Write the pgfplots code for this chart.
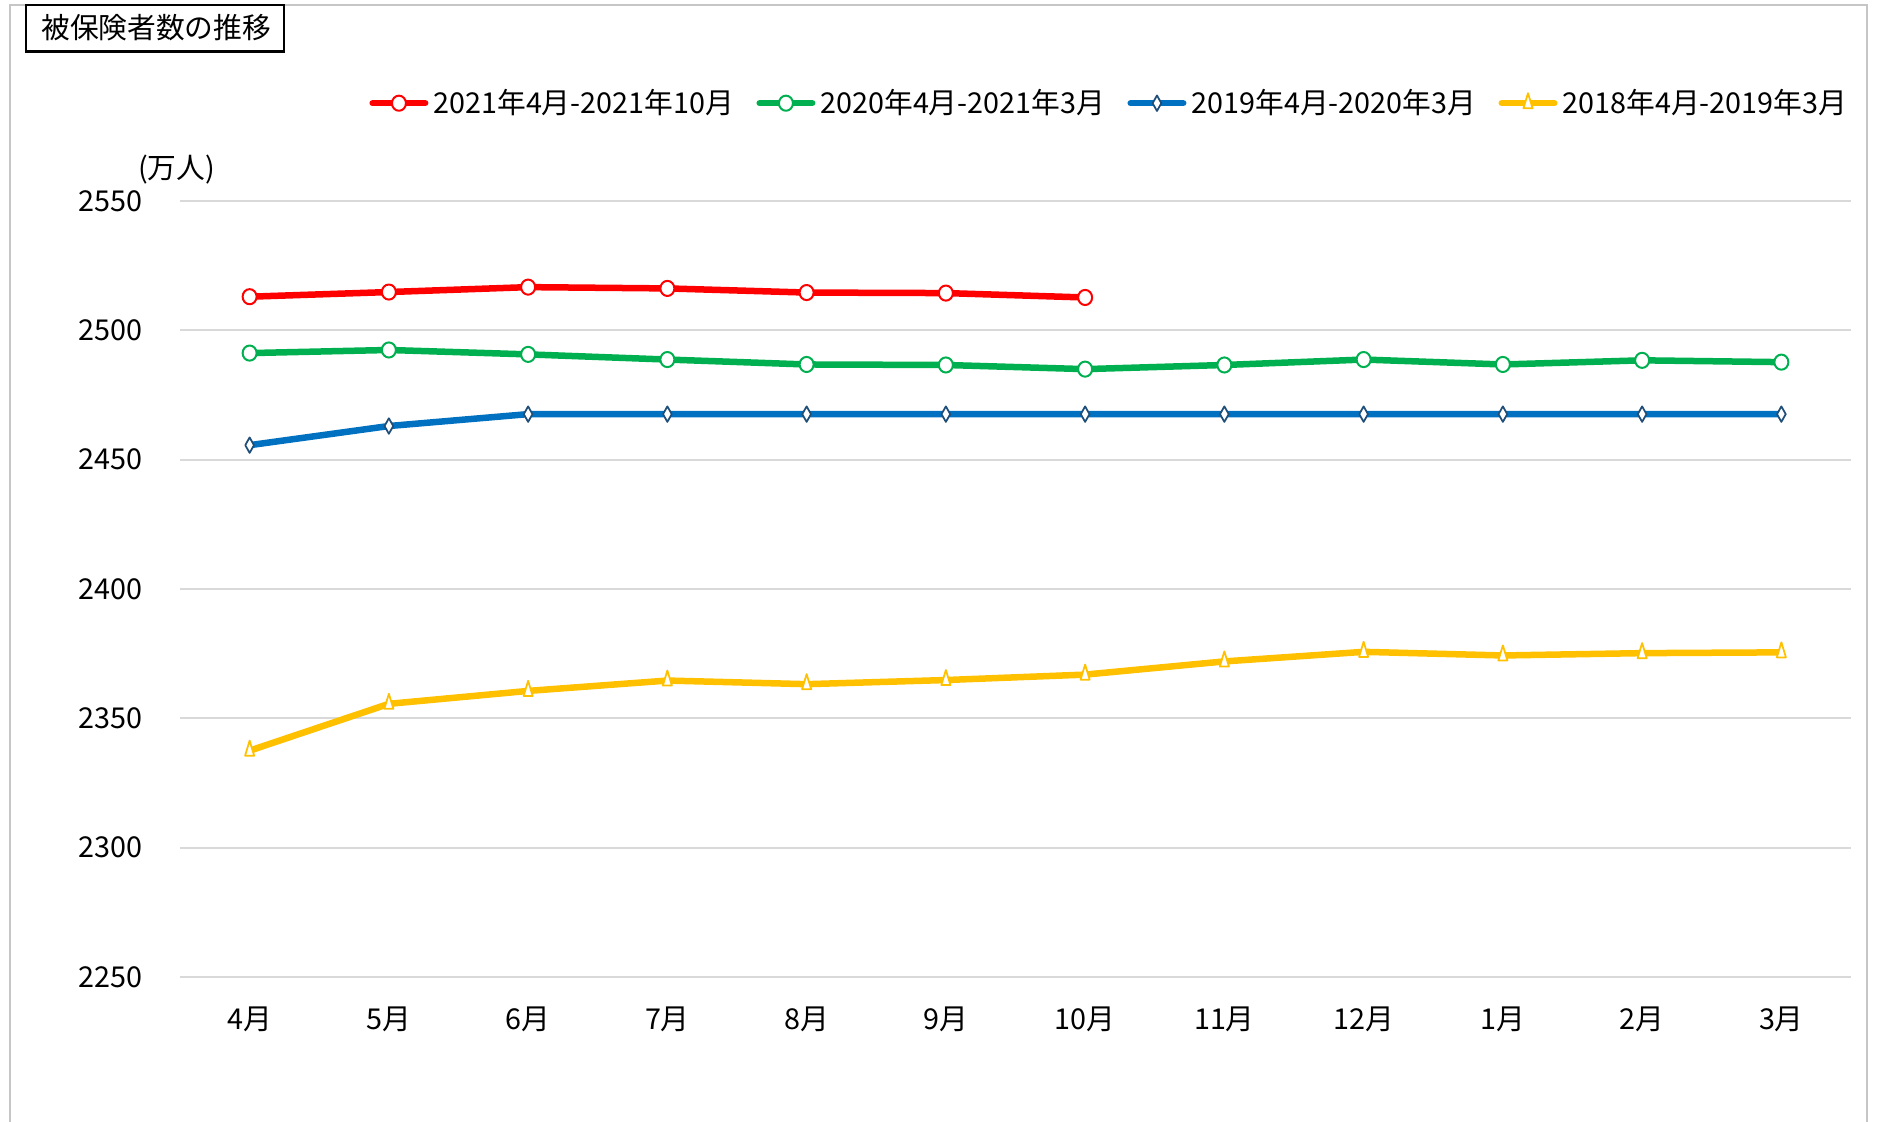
\documentclass[border=0pt]{standalone}
\usepackage{pgfplots}
\pgfplotsset{compat=1.18}
\usepackage{fontspec}
\setmainfont{Noto Sans CJK JP}
\definecolor{cRed}{HTML}{FF0000}
\definecolor{cGreen}{HTML}{00B050}
\definecolor{cBlue}{HTML}{0070C0}
\definecolor{cBlueM}{HTML}{1F4E79}
\definecolor{cYel}{HTML}{FFC000}
\definecolor{cGrid}{HTML}{D9D9D9}
\begin{document}%
\fontsize{11.5pt}{14pt}\selectfont%
\begin{tikzpicture}[x=1pt,y=1pt,font=\fontsize{11.5pt}{14pt}\selectfont]
\useasboundingbox (0,0) rectangle (750.8,448.8);
\draw[gray!45, line width=0.8pt] (3.8,-5) -- (3.8,446.8) -- (746.9,446.8) -- (746.9,-5);
\draw[black, line width=0.9pt, fill=white] (10.5,446.8) rectangle (113.6,428.2);
\node at (62.5,437.6) {被保険者数の推移};
\begin{axis}[
  at={(72pt,58pt)}, anchor=south west,
  scale only axis, width=668.4pt, height=310.4pt,
  xmin=-0.5, xmax=11.5, ymin=2250, ymax=2550,
  ytick={2250,2300,...,2550},
  xtick={0,...,11},
  xticklabels={4月,5月,6月,7月,8月,9月,10月,11月,12月,1月,2月,3月},
  /pgf/number format/assume math mode=true,
  /pgf/number format/1000 sep={},
  ymajorgrids, grid style={cGrid, line width=0.7pt},
  axis line style={draw=none},
  tick style={draw=none},
  major tick length=0pt,
  yticklabel style={xshift=-11pt},
  xticklabel style={yshift=-8pt},
  tick label style={font=\fontsize{11.5pt}{14pt}\selectfont},
  clip=false,
  legend columns=4,
  legend cell align=left,
  legend style={at={(0.557,1.126)}, anchor=center, draw=none, fill=none,
    font=\fontsize{11.5pt}{14pt}\selectfont,
    /tikz/every even column/.append style={column sep=7pt}},
  legend image code/.code={\draw[mark repeat=2,mark phase=2] plot coordinates {(0pt,0pt) (10.5pt,0pt) (21pt,0pt)};},
  every axis plot/.append style={line width=2.6pt, line cap=round, line join=round},
]
\addplot[cRed, mark=*, mark size=2.8pt, mark options={fill=white, draw=cRed, line width=0.8pt, yscale=1.08}]
 coordinates {(0,2513.0) (1,2514.8) (2,2516.7) (3,2516.2) (4,2514.6) (5,2514.4) (6,2512.7)};
\addlegendentry{2021年4月-2021年10月}
\addplot[cGreen, mark=*, mark size=2.8pt, mark options={fill=white, draw=cGreen, line width=0.8pt, yscale=1.08}]
 coordinates {(0,2491.2) (1,2492.4) (2,2490.7) (3,2488.7) (4,2486.8) (5,2486.6) (6,2485.0) (7,2486.6) (8,2488.7) (9,2486.8) (10,2488.4) (11,2487.7)};
\addlegendentry{2020年4月-2021年3月}
\addplot[cBlue, mark=diamond*, mark size=3.1pt, mark options={fill=white, draw=cBlueM, line width=0.7pt, xscale=0.75}]
 coordinates {(0,2455.6) (1,2463.0) (2,2467.6) (3,2467.6) (4,2467.6) (5,2467.6) (6,2467.6) (7,2467.6) (8,2467.6) (9,2467.6) (10,2467.6) (11,2467.6)};
\addlegendentry{2019年4月-2020年3月}
\addplot[cYel, mark=triangle*, mark size=3.5pt, mark options={fill=white, draw=cYel, line width=0.7pt, xscale=0.6, yscale=1.15}]
 coordinates {(0,2337.5) (1,2355.6) (2,2360.6) (3,2364.6) (4,2363.2) (5,2364.8) (6,2366.9) (7,2372.0) (8,2375.7) (9,2374.3) (10,2375.2) (11,2375.5)};
\addlegendentry{2018年4月-2019年3月}
\node at (rel axis cs:-0.002,1.04) {(万人)};
\end{axis}
\end{tikzpicture}%
\end{document}
